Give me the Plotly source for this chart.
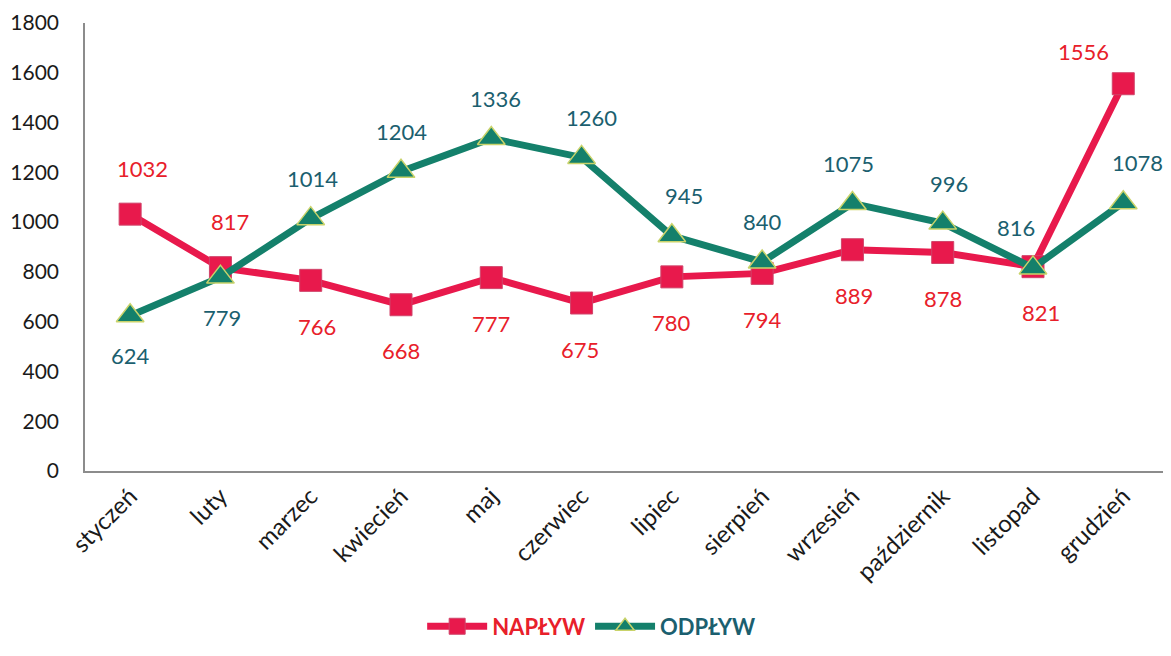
import plotly.graph_objects as go

months = ["styczeń", "luty", "marzec", "kwiecień", "maj", "czerwiec", "lipiec",
          "sierpień", "wrzesień", "październik", "listopad", "grudzień"]
naplyw = [1032, 817, 766, 668, 777, 675, 780, 794, 889, 878, 821, 1556]
odplyw = [624, 779, 1014, 1204, 1336, 1260, 945, 840, 1075, 996, 816, 1078]

# label placement: +1 above, -1 below
naplyw_pos = [1, 1, -1, -1, -1, -1, -1, -1, -1, -1, -1, 1]
odplyw_pos = [-1, -1, 1, 1, 1, 1, 1, 1, 1, 1, 1, 1]
naplyw_xs = [12, 10, 6, 0, 0, -2, 0, 0, 2, 0, 8, -40]
odplyw_xs = [0, 2, 2, 0, 4, 10, 12, 0, -4, 6, -17, 14]

RED = "#E8194C"
RED_TXT = "#E8202A"
TEAL = "#14806B"
TEAL_TXT = "#1B5F6F"
FONT = "Lato"

fig = go.Figure()
fig.add_trace(go.Scatter(
    x=months, y=naplyw, mode="lines+markers",
    name=f"<span style='color:{RED_TXT}'><b>NAPŁYW</b></span>",
    line=dict(color=RED, width=7),
    marker=dict(symbol="square", size=22, color=RED, line=dict(color="#D0446A", width=1)),
))
fig.add_trace(go.Scatter(
    x=months, y=odplyw, mode="lines+markers",
    name=f"<span style='color:{TEAL_TXT}'><b>ODPŁYW</b></span>",
    line=dict(color=TEAL, width=7),
    marker=dict(symbol="triangle-up", size=24, color=TEAL, line=dict(color="#C9D36A", width=1.5)),
))

for m, v, p, xs in zip(months, naplyw, naplyw_pos, naplyw_xs):
    ys = 46 * p if v != 1556 else 32
    fig.add_annotation(x=m, y=v, text=str(v), showarrow=False, xshift=xs, yshift=ys,
                       font=dict(family=FONT, size=22, color=RED_TXT))
for m, v, p, xs in zip(months, odplyw, odplyw_pos, odplyw_xs):
    fig.add_annotation(x=m, y=v, text=str(v), showarrow=False, xshift=xs, yshift=40 * p,
                       font=dict(family=FONT, size=22, color=TEAL_TXT))

# page body has an 8px default margin, so the figure is sized to fit inside the window
fig.update_layout(
    width=1155, height=640,
    margin=dict(l=77, r=0, t=15, b=167),
    paper_bgcolor="white", plot_bgcolor="white",
    font=dict(family=FONT, size=22, color="#1a1a1a"),
    showlegend=True,
    legend=dict(orientation="h", x=0.47, xanchor="center", y=-0.347, yanchor="middle",
                font=dict(family=FONT, size=22), itemwidth=60),
    xaxis=dict(showline=True, linecolor="#8c8c8c", linewidth=1.5, showgrid=False,
               tickangle=-45, ticks="", tickfont=dict(family=FONT, size=24, color="#1a1a1a"),
               range=[-0.5, 11.44], automargin=False),
    yaxis=dict(range=[0, 1800], dtick=200, showline=True, linecolor="#8c8c8c", linewidth=1.5,
               showgrid=False, zeroline=False, ticks="", ticklabelstandoff=20,
               tickfont=dict(family=FONT, size=21, color="#1a1a1a"), automargin=False),
)

fig.write_html("out.html")
